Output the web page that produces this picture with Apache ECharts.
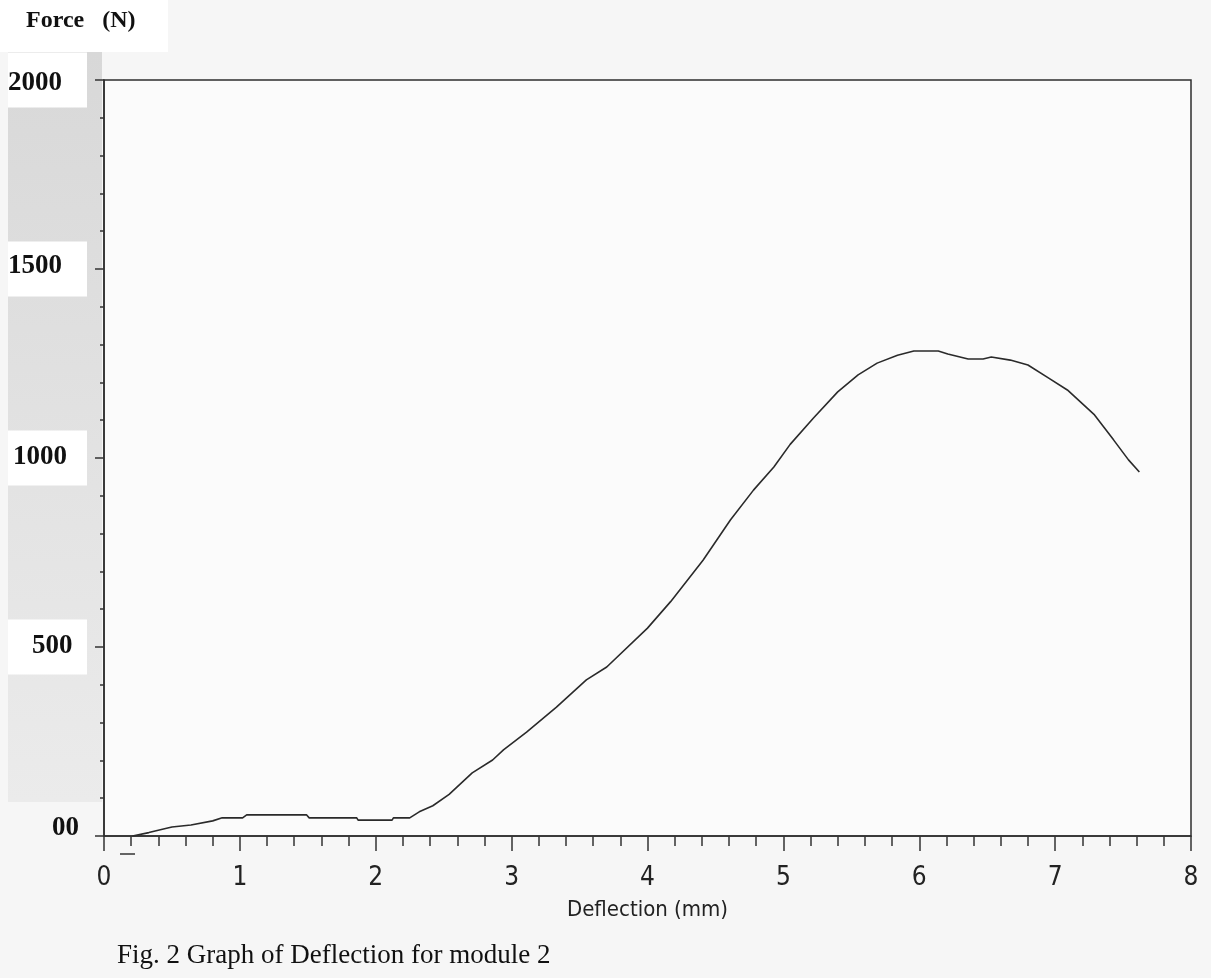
<!DOCTYPE html>
<html>
<head>
<meta charset="utf-8">
<title>Graph of Deflection for module 2</title>
<script src="https://cdn.jsdelivr.net/npm/echarts@6/dist/echarts.min.js"></script>
<style>
	html, body { margin: 0; padding: 0; background: #f6f6f6; }
	#chart { width: 1211px; height: 978px; }
</style>
</head>
<body>
<div id="chart"></div>
<script>
// deflection (mm)
var deflection = [0.21, 0.33, 0.43, 0.50, 0.64, 0.80, 0.87, 1.02, 1.05, 1.49, 1.51, 1.86, 1.87, 2.12, 2.13, 2.25,
	2.32, 2.42, 2.54, 2.71, 2.86, 2.94, 3.11, 3.33, 3.55, 3.70, 4.00, 4.17, 4.41, 4.61, 4.78, 4.93,
	5.05, 5.22, 5.40, 5.55, 5.69, 5.84, 5.96, 6.14, 6.21, 6.36, 6.47, 6.53, 6.67, 6.80, 6.95, 7.09,
	7.29, 7.43, 7.54, 7.62];
// force (N)
var force = [0, 9, 18, 24, 29, 40, 48, 48, 56, 56, 48, 48, 42, 42, 48, 48,
	64, 80, 110, 167, 201, 228, 275, 341, 413, 447, 550, 620, 730, 836, 915, 976,
	1036, 1105, 1175, 1220, 1251, 1272, 1283, 1283, 1275, 1262, 1262, 1267, 1259, 1246, 1212, 1180,
	1114, 1048, 995, 963];
var xTicks = [0, 1, 2, 3, 4, 5, 6, 7, 8];
var yTickLabels = { 0: '00', 500: '500', 1000: '1000', 1500: '1500', 2000: '2000' };

var points = [];
for (var i = 0; i < deflection.length; i++) {
	points.push([deflection[i], force[i]]);
}

var pixelFont = '"Liberation Sans Narrow", "DejaVu Sans Condensed", "Liberation Mono", monospace';
var serif = '"Liberation Serif", "DejaVu Serif", serif';

//y轴标签的白底框
function labelBox(padLeft, padTop, padBottom, bg) {
	return {
		padding: [padTop, 0, padBottom, padLeft],
		width: 79 - padLeft,
		align: 'left',
		fontFamily: serif,
		fontWeight: 'bold',
		fontSize: 27,
		color: '#111',
		backgroundColor: bg
	};
}

var option = {
	backgroundColor: '#f6f6f6',
	animation: false,
	grid: {
		left: 104,
		right: 20,
		top: 80,
		bottom: 142,
		show: true,
		backgroundColor: '#fbfbfb',
		borderColor: '#2e2e2e',
		borderWidth: 1.5
	},
	graphic: [{
		type: 'rect',
		z: -10,
		shape: { x: 8, y: 52, width: 94, height: 750 },
		style: {
			fill: {
				type: 'linear', x: 0, y: 0, x2: 0, y2: 1,
				colorStops: [{ offset: 0, color: '#d8d8d8' }, { offset: 1, color: '#ebebeb' }]
			}
		}
	}, {
		type: 'rect',
		z: -5,
		shape: { x: 0, y: 0, width: 168, height: 52 },
		style: { fill: '#ffffff' }
	}, {
		type: 'text',
		left: 26,
		top: 9,
		style: { text: 'Force   (N)', font: 'bold 24px ' + serif, fill: '#111' }
	}, {
		type: 'line',
		shape: { x1: 120, y1: 854, x2: 135, y2: 854 },
		style: { stroke: '#333', lineWidth: 1.5 }
	}, {
		type: 'text',
		left: 117,
		top: 942,
		style: { text: 'Fig. 2 Graph of Deflection for module 2', font: '27px ' + serif, fill: '#111' }
	}],
	xAxis: {
		type: 'value',
		min: 0,
		max: 8,
		interval: 1,
		name: 'Deflection (mm)',
		nameLocation: 'middle',
		nameGap: 63,
		nameTextStyle: { fontFamily: pixelFont, fontSize: 22, color: '#222' },
		axisLine: { lineStyle: { color: '#2e2e2e', width: 1.5 } },
		axisTick: { length: 15, lineStyle: { color: '#333', width: 1.5 } },
		minorTick: { show: true, splitNumber: 5, length: 10, lineStyle: { color: '#333', width: 1.5 } },
		splitLine: { show: false },
		axisLabel: {
			margin: 29,
			fontFamily: pixelFont,
			fontSize: 26,
			color: '#222',
			formatter: function(v) {
				return xTicks.indexOf(v) >= 0 ? String(v) : '';
			}
		}
	},
	yAxis: {
		type: 'value',
		min: 0,
		max: 2000,
		interval: 500,
		axisLine: { show: true, lineStyle: { color: '#2e2e2e', width: 1.5 } },
		axisTick: { show: true, length: 9, lineStyle: { color: '#333', width: 1.5 } },
		minorTick: { show: true, splitNumber: 5, length: 4, lineStyle: { color: '#333', width: 1.5 } },
		splitLine: { show: false },
		axisLabel: {
			align: 'left',
			margin: 96,
			formatter: function(v) {
				return '{v' + v + '|' + yTickLabels[v] + '}';
			},
			rich: {
				v0: labelBox(44, 4, 20, 'transparent'),
				v500: labelBox(24, 13, 15, '#ffffff'),
				v1000: labelBox(5, 13, 15, '#ffffff'),
				v1500: labelBox(0, 11, 17, '#ffffff'),
				v2000: labelBox(0, 17, 11, '#ffffff')
			}
		}
	},
	series: [{
		type: 'line',
		data: points,
		showSymbol: false,
		smooth: false,
		lineStyle: { color: '#2a2a2a', width: 1.6 }
	}]
};

var chart = echarts.init(document.getElementById('chart'));
chart.setOption(option);
</script>
</body>
</html>
